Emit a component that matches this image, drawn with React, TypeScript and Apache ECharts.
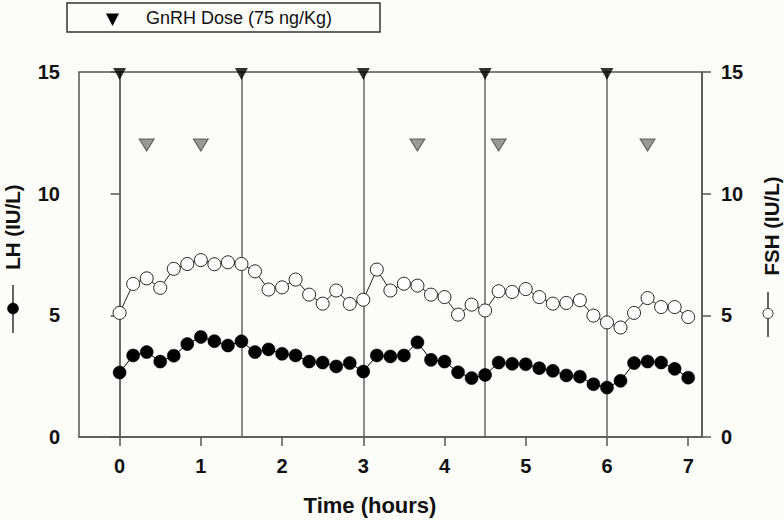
import React, { useEffect, useRef } from "react";
import * as echarts from "echarts";

// sampling times (minutes from start)
const minutes = [
  0, 10, 20, 30, 40, 50, 60, 70, 80, 90, 100, 110, 120, 130, 140, 150, 160, 170,
  180, 190, 200, 210, 220, 230, 240, 250, 260, 270, 280, 290, 300, 310, 320, 330,
  340, 350, 360, 370, 380, 390, 400, 410, 420,
];
const lhValues = [
  2.65, 3.35, 3.49, 3.1, 3.34, 3.82, 4.11, 3.94, 3.76, 3.93, 3.49, 3.6, 3.42, 3.35,
  3.1, 3.06, 2.9, 3.04, 2.69, 3.35, 3.31, 3.35, 3.89, 3.17, 3.1, 2.66, 2.42, 2.55,
  3.06, 3.01, 2.99, 2.83, 2.72, 2.53, 2.48, 2.17, 2.03, 2.31, 3.04, 3.1, 3.06, 2.8,
  2.44,
];
const fshValues = [
  5.1, 6.29, 6.52, 6.13, 6.91, 7.11, 7.27, 7.1, 7.18, 7.11, 6.81, 6.06, 6.15, 6.47,
  5.85, 5.48, 6.02, 5.47, 5.64, 6.88, 6.02, 6.3, 6.22, 5.85, 5.75, 5.03, 5.44, 5.2,
  5.99, 5.96, 6.08, 5.75, 5.48, 5.51, 5.62, 4.99, 4.71, 4.5, 5.1, 5.71, 5.34, 5.34,
  4.93,
];
// GnRH dose times (hours) and marker level
const doseTimes = [0, 1.5, 3, 4.5, 6];
const doseLevel = 15;
// detected pulse times (minutes) and marker level
const pulseMinutes = [20, 60, 220, 280, 390];
const pulseLevel = 12;
// tick labels
const xTicks = [0, 1, 2, 3, 4, 5, 6, 7];
const yTicks = [0, 5, 10, 15];

const FONT = "'Liberation Sans', Arial, Helvetica, sans-serif";
const AXIS_COLOR = "#555";
const TEXT_COLOR = "#111";

export default function App() {
  const ref = useRef<HTMLDivElement>(null);

  useEffect(() => {
    if (!ref.current) return;
    const chart = echarts.init(ref.current, null, { renderer: "svg" });

    const lhData = minutes.map((m, i) => [m / 60, lhValues[i]]);
    const fshData = minutes.map((m, i) => [m / 60, fshValues[i]]);
    const doseData = doseTimes.map((t) => [t, doseLevel]);
    const pulseData = pulseMinutes.map((m) => [m / 60, pulseLevel]);

    const yAxisCommon = {
      type: "value",
      min: yTicks[0],
      max: yTicks[yTicks.length - 1],
      interval: 5,
      splitLine: { show: false },
      axisLine: { show: true, lineStyle: { color: AXIS_COLOR, width: 1.5 } },
      axisTick: { show: true, length: 9, lineStyle: { color: AXIS_COLOR, width: 1.5 } },
      axisLabel: {
        margin: 19,
        color: TEXT_COLOR,
        fontSize: 20,
        fontWeight: "bold",
        fontFamily: FONT,
      },
    };

    const option: any = {
      animation: false,
      backgroundColor: "#fcfcf8",
      grid: {
        left: 79,
        right: 82,
        top: 72,
        bottom: 83,
        show: true,
        borderColor: AXIS_COLOR,
        borderWidth: 1.5,
        backgroundColor: "transparent",
      },
      xAxis: {
        type: "value",
        min: -0.5,
        max: 7.17,
        splitLine: { show: false },
        axisLine: { show: true, onZero: false, lineStyle: { color: AXIS_COLOR, width: 1.5 } },
        axisTick: {
          show: true,
          length: 9,
          customValues: xTicks,
          lineStyle: { color: AXIS_COLOR, width: 1.5 },
        },
        axisLabel: {
          customValues: xTicks,
          margin: 19,
          color: TEXT_COLOR,
          fontSize: 20,
          fontWeight: "bold",
          fontFamily: FONT,
        },
      },
      yAxis: [
        { ...yAxisCommon, position: "left" },
        { ...yAxisCommon, position: "right" },
      ],
      series: [
        {
          name: "GnRH Dose (75 ng/Kg)",
          type: "scatter",
          data: doseData,
          symbol: "triangle",
          symbolRotate: 180,
          symbolSize: [13, 12],
          symbolOffset: [0, 2],
          itemStyle: { color: "#000" },
          clip: false,
          z: 5,
          silent: true,
          markLine: {
            silent: true,
            symbol: ["none", "none"],
            z: 1,
            label: { show: false },
            lineStyle: { color: "#666", width: 1.5, type: "solid" },
            data: doseTimes.map((t) => ({ xAxis: t })),
          },
        },
        {
          name: "Pulse",
          type: "scatter",
          data: pulseData,
          symbol: "triangle",
          symbolRotate: 180,
          symbolSize: [15, 12],
          itemStyle: { color: "#808080", borderColor: "#444", borderWidth: 1 },
          z: 4,
          silent: true,
        },
        {
          name: "FSH (IU/L)",
          type: "line",
          yAxisIndex: 1,
          data: fshData,
          symbol: "circle",
          symbolSize: 13,
          showAllSymbol: true,
          lineStyle: { color: "#222", width: 1 },
          itemStyle: { color: "#ffffff", borderColor: "#222", borderWidth: 1 },
          z: 3,
          silent: true,
        },
        {
          name: "LH (IU/L)",
          type: "line",
          yAxisIndex: 0,
          data: lhData,
          symbol: "circle",
          symbolSize: 13,
          showAllSymbol: true,
          lineStyle: { color: "#000", width: 1 },
          itemStyle: { color: "#000", borderColor: "#000", borderWidth: 0.5 },
          z: 3,
          silent: true,
        },
      ],
      graphic: [
        // legend box
        {
          type: "rect",
          shape: { x: 67, y: 3, width: 313, height: 29 },
          style: { fill: "#fcfcf8", stroke: "#333", lineWidth: 1.5 },
        },
        {
          type: "polygon",
          shape: { points: [[106, 13.5], [119, 13.5], [112.5, 26]] },
          style: { fill: "#000" },
        },
        {
          type: "text",
          x: 146,
          y: 18,
          style: {
            text: "GnRH Dose (75 ng/Kg)",
            fontSize: 18,
            fontFamily: FONT,
            fill: TEXT_COLOR,
            textAlign: "left",
            textVerticalAlign: "middle",
            align: "left",
            verticalAlign: "middle",
          },
        },
        // x-axis title
        {
          type: "text",
          x: 370,
          y: 505,
          style: {
            text: "Time (hours)",
            fontSize: 22,
            fontWeight: "bold",
            fontFamily: FONT,
            fill: TEXT_COLOR,
            textAlign: "center",
            textVerticalAlign: "middle",
            align: "center",
            verticalAlign: "middle",
          },
        },
        // left y title with symbol
        {
          type: "text",
          x: 12,
          y: 227,
          rotation: Math.PI / 2,
          style: {
            text: "LH (IU/L)",
            fontSize: 20.5,
            fontWeight: "bold",
            fontFamily: FONT,
            fill: TEXT_COLOR,
            textAlign: "center",
            textVerticalAlign: "middle",
            align: "center",
            verticalAlign: "middle",
          },
        },
        {
          type: "line",
          shape: { x1: 13, y1: 285, x2: 13, y2: 333 },
          style: { stroke: "#333", lineWidth: 1.5 },
        },
        {
          type: "circle",
          shape: { cx: 13, cy: 308.5, r: 5.5 },
          style: { fill: "#000", stroke: "#000", lineWidth: 0.5 },
        },
        // right y title with symbol
        {
          type: "text",
          x: 771,
          y: 226,
          rotation: Math.PI / 2,
          style: {
            text: "FSH (IU/L)",
            fontSize: 20.5,
            fontWeight: "bold",
            fontFamily: FONT,
            fill: TEXT_COLOR,
            textAlign: "center",
            textVerticalAlign: "middle",
            align: "center",
            verticalAlign: "middle",
          },
        },
        {
          type: "line",
          shape: { x1: 768, y1: 292, x2: 768, y2: 337 },
          style: { stroke: "#333", lineWidth: 1.5 },
        },
        {
          type: "circle",
          shape: { cx: 768, cy: 313.5, r: 5 },
          style: { fill: "#fff", stroke: "#333", lineWidth: 1 },
        },
      ],
    };

    chart.setOption(option);
    return () => {
      chart.dispose();
    };
  }, []);

  return (
    <div
      ref={ref}
      style={{ position: "absolute", left: 0, top: 0, width: 784, height: 520 }}
    />
  );
}
